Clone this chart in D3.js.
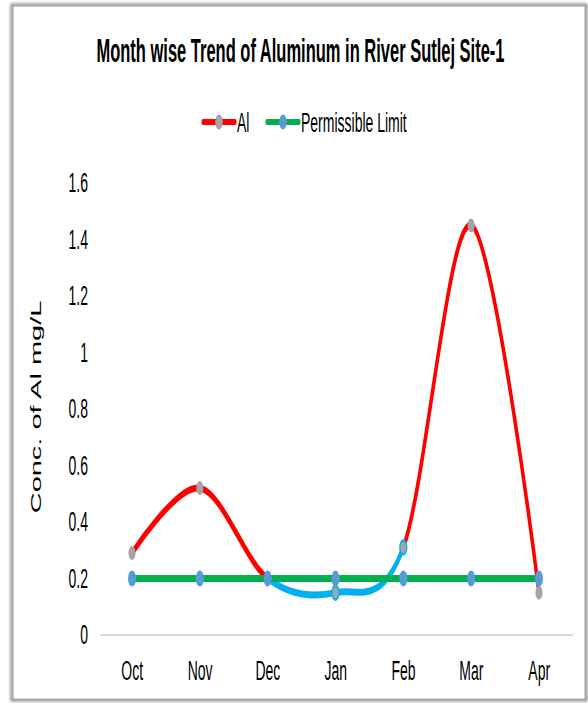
<!DOCTYPE html>
<html>
<head>
<meta charset="utf-8">
<script src="https://cdn.jsdelivr.net/npm/d3@7"></script>
<style>
  body { margin: 0; background: #fff; }
  text { font-family: "Liberation Sans", Arial, sans-serif; fill: #000; }
</style>
</head>
<body>
<div id="chart"></div>
<script>
// data
const months = ["Oct", "Nov", "Dec", "Jan", "Feb", "Mar", "Apr"];
const alValues = [0.29, 0.52, 0.2, 0.15, 0.31, 1.45, 0.15];
const limitValues = [0.2, 0.2, 0.2, 0.2, 0.2, 0.2, 0.2];
const yTicks = [0, 0.2, 0.4, 0.6, 0.8, 1, 1.2, 1.4, 1.6];
// points of the Al line drawn in light blue (below the limit stretch)
const blueFrom = "Dec", blueTo = "Feb";
const blueMarkers = ["Jan", "Feb"];

const [width, height] = [588, 703];
const sx = 0.5;               // the chart is squeezed horizontally
const ix = v => v / sx;       // outer x -> inner x

const svg = d3.select("#chart")
  .append("svg")
  .attr("width", width)
  .attr("height", height);

const defs = svg.append("defs");
defs.append("filter").attr("id", "blur")
  .append("feGaussianBlur").attr("stdDeviation", 1.6);

// frame with soft shadow
svg.append("rect")
  .attr("x", 12).attr("y", 5).attr("width", 574).attr("height", 695)
  .attr("fill", "none").attr("stroke", "#8a8a8a").attr("stroke-width", 3)
  .attr("filter", "url(#blur)");
svg.append("rect")
  .attr("x", 13).attr("y", 6).attr("width", 572).attr("height", 693)
  .attr("fill", "#fff").attr("stroke", "#a0a0a0").attr("stroke-width", 1);

const g = svg.append("g").attr("transform", `scale(${sx},1)`);

const x = d3.scalePoint()
  .domain(months)
  .range([ix(132), ix(539)]);

const y = d3.scaleLinear()
  .domain([0, 1.6])
  .range([635, 183]);

// title
g.append("text")
  .attr("x", ix(300.5)).attr("y", 62)
  .attr("text-anchor", "middle")
  .style("font-size", "33px").style("font-weight", "bold")
  .text("Month wise Trend of Aluminum in River Sutlej Site-1");

// legend
const legend = [
  { name: "Al", line: "#ff0000", dot: "#a5a5a5", x0: 203, x1: 235, tx: 237 },
  { name: "Permissible Limit", line: "#00b050", dot: "#5b9bd5", x0: 267, x1: 299, tx: 301 }
];
legend.forEach(d => {
  g.append("line")
    .attr("x1", ix(d.x0)).attr("x2", ix(d.x1)).attr("y1", 122).attr("y2", 122)
    .attr("stroke", d.line).attr("stroke-width", 6).attr("stroke-linecap", "round");
  g.append("circle")
    .attr("cx", ix((d.x0 + d.x1) / 2)).attr("cy", 122).attr("r", 7.5)
    .attr("fill", d.dot);
  g.append("text")
    .attr("x", ix(d.tx)).attr("y", 132)
    .style("font-size", "28px")
    .text(d.name);
});

// axes
const yAxis = d3.axisLeft(y)
  .tickValues(yTicks)
  .tickSize(0)
  .tickPadding(0)
  .tickFormat(d => String(d));

g.append("g")
  .attr("transform", `translate(${ix(88)},0)`)
  .call(yAxis)
  .call(a => a.select(".domain").remove())
  .selectAll("text")
  .style("font-size", "28px")
  .attr("fill", "#000");

g.append("line")
  .attr("x1", ix(100)).attr("x2", ix(573))
  .attr("y1", y(0)).attr("y2", y(0))
  .attr("stroke", "#d9d9d9").attr("stroke-width", 2);

const xAxis = d3.axisBottom(x).tickSize(0).tickPadding(25);
g.append("g")
  .attr("transform", `translate(0,${y(0)})`)
  .call(xAxis)
  .call(a => a.select(".domain").remove())
  .selectAll("text")
  .style("font-size", "28px")
  .attr("fill", "#000");

g.append("text")
  .attr("transform", `translate(${ix(41)},407) rotate(-90)`)
  .attr("text-anchor", "middle")
  .style("font-size", "29px")
  .text("Conc. of Al mg/L");

// Al line, split in colours with clip rects
const alData = months.map((m, i) => ({ m, v: alValues[i] }));
const limitData = months.map((m, i) => ({ m, v: limitValues[i] }));

const line = d3.line()
  .x(d => x(d.m))
  .y(d => y(d.v))
  .curve(d3.curveCardinal.tension(0));

const clips = [
  { id: "clipA", x0: 0, x1: x(blueFrom), color: "#ff0000" },
  { id: "clipB", x0: x(blueFrom), x1: x(blueTo), color: "#00b0f0" },
  { id: "clipC", x0: x(blueTo), x1: ix(width), color: "#ff0000" }
];
clips.forEach(c => {
  defs.append("clipPath").attr("id", c.id)
    .append("rect")
    .attr("x", c.x0).attr("y", 0)
    .attr("width", c.x1 - c.x0).attr("height", height);
  g.append("path")
    .datum(alData)
    .attr("d", line)
    .attr("fill", "none")
    .attr("stroke", c.color)
    .attr("stroke-width", 7)
    .attr("stroke-linecap", "round")
    .attr("clip-path", `url(#${c.id})`);
});

g.selectAll(".alDot")
  .data(alData)
  .enter()
  .append("circle")
  .attr("class", "alDot")
  .attr("cx", d => x(d.m))
  .attr("cy", d => y(d.v))
  .attr("r", 7)
  .attr("fill", "#a5a5a5")
  .attr("stroke", d => blueMarkers.includes(d.m) ? "#00b0f0" : "none")
  .attr("stroke-width", 2.5);

// permissible limit
g.append("path")
  .datum(limitData)
  .attr("d", line)
  .attr("fill", "none")
  .attr("stroke", "#00b050")
  .attr("stroke-width", 7);

g.selectAll(".limDot")
  .data(limitData)
  .enter()
  .append("circle")
  .attr("class", "limDot")
  .attr("cx", d => x(d.m))
  .attr("cy", d => y(d.v))
  .attr("r", 8)
  .attr("fill", "#5b9bd5");
</script>
</body>
</html>
